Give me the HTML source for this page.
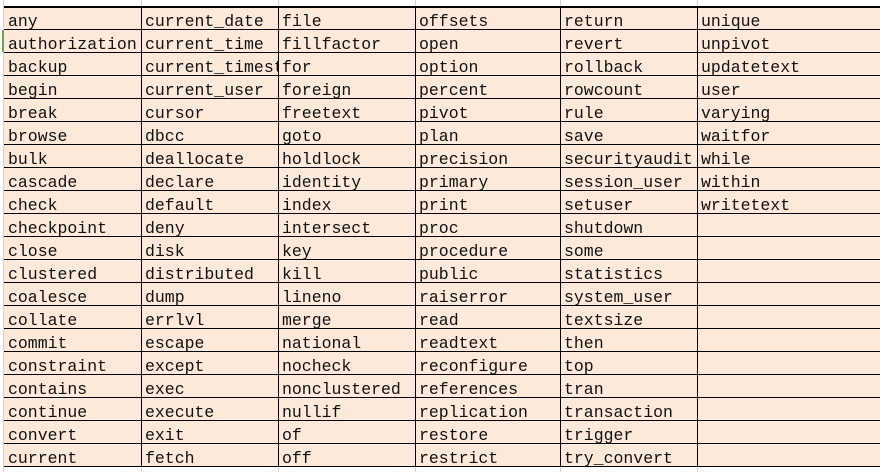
<!DOCTYPE html>
<html><head><meta charset="utf-8"><style>
html,body{margin:0;padding:0;width:880px;height:472px;overflow:hidden;background:#fff;}
#g{position:absolute;left:4px;top:6px;width:876px;height:460px;background:#fde9d9;}
.h{position:absolute;left:0;width:880px;height:1px;background:#000;}
.v{position:absolute;width:1px;background:#000;top:6px;height:460px;}
.gv{position:absolute;width:1px;background:#d4d4d4;top:0;height:472px;}
.c{position:absolute;height:23px;line-height:23px;overflow:hidden;white-space:nowrap;font-family:"Liberation Mono","Noto Sans CJK SC",monospace;font-size:16.5px;color:#111;padding-top:4px;box-sizing:border-box;}
</style></head><body>
<div class="gv" style="left:3px"></div>
<div class="gv" style="left:141px"></div>
<div class="gv" style="left:278px"></div>
<div class="gv" style="left:415px"></div>
<div class="gv" style="left:560px"></div>
<div class="gv" style="left:697px"></div>
<div id="g"></div>
<div style="position:absolute;left:2px;top:30px;width:2px;height:22px;background:#6aa84f"></div>
<div id="lines"></div>
<div id="cells"></div>
<script>
var cols=[4,141,278,415,560,697,880];
var data=[
["any","current_date","file","offsets","return","unique"],
["authorization","current_time","fillfactor","open","revert","unpivot"],
["backup","current_timestamp","for","option","rollback","updatetext"],
["begin","current_user","foreign","percent","rowcount","user"],
["break","cursor","freetext","pivot","rule","varying"],
["browse","dbcc","goto","plan","save","waitfor"],
["bulk","deallocate","holdlock","precision","securityaudit","while"],
["cascade","declare","identity","primary","session_user","within"],
["check","default","index","print","setuser","writetext"],
["checkpoint","deny","intersect","proc","shutdown",""],
["close","disk","key","procedure","some",""],
["clustered","distributed","kill","public","statistics",""],
["coalesce","dump","lineno","raiserror","system_user",""],
["collate","errlvl","merge","read","textsize",""],
["commit","escape","national","readtext","then",""],
["constraint","except","nocheck","reconfigure","top",""],
["contains","exec","nonclustered","references","tran",""],
["continue","execute","nullif","replication","transaction",""],
["convert","exit","of","restore","trigger",""],
["current","fetch","off","restrict","try_convert",""]];
var h='';
for(var i=0;i<=20;i++){h+='<div class="h" style="top:'+(6+23*i)+'px;left:4px;width:876px;'+(i==0?'height:2px;':'')+'"></div>';}
for(var j=1;j<6;j++){h+='<div class="v" style="left:'+cols[j]+'px"></div>';}
document.getElementById('lines').innerHTML=h;
var c='';
for(var i=0;i<20;i++)for(var j=0;j<6;j++){
 var x=cols[j]+4,w=cols[j+1]-cols[j]-4;
 if(j==0)w=cols[1]-x;
 c+='<div class="c" style="left:'+x+'px;top:'+(6+23*i)+'px;width:'+w+'px">'+data[i][j]+'</div>';
}
document.getElementById('cells').innerHTML=c;
</script>
</body></html>
